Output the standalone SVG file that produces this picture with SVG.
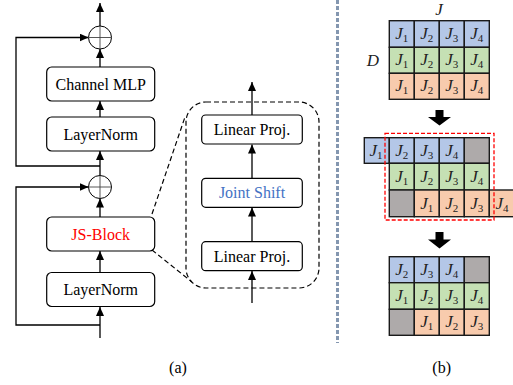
<svg xmlns="http://www.w3.org/2000/svg" width="513" height="385" viewBox="0 0 513 385">
<style>
.box{fill:#fff;stroke:#000;stroke-width:1.2}
.t{font-family:"Liberation Serif",serif;font-size:16px;text-anchor:middle}
.ln{fill:none;stroke:#000;stroke-width:1.3}
.cell{stroke:#1a1a1a;stroke-width:1.4}
.b{fill:#b4c7e7}.g{fill:#c5e0b4}.o{fill:#f8cbad}.k{fill:#aeaaaa}
.j{font-family:"Liberation Serif",serif;font-style:italic;font-size:17px;text-anchor:middle;fill:#222}
.s{font-size:11px;font-style:normal}
</style>
<defs>
<marker id="ah" markerUnits="userSpaceOnUse" markerWidth="9" markerHeight="8" refX="9" refY="4" orient="auto"><path d="M0,0 L9,4 L0,8 z" fill="#000"/></marker>
</defs>
<g id="connectors">
<line class="ln" x1="100" y1="26" x2="100" y2="3" marker-end="url(#ah)"/>
<line class="ln" x1="100" y1="67" x2="100" y2="49" marker-end="url(#ah)"/>
<line class="ln" x1="100" y1="117" x2="100" y2="101" marker-end="url(#ah)"/>
<line class="ln" x1="100" y1="175.5" x2="100" y2="151" marker-end="url(#ah)"/>
<polyline class="ln" points="100,166 16,166 16,37.5 88.5,37.5" marker-end="url(#ah)"/>
<line class="ln" x1="100" y1="217" x2="100" y2="198.5" marker-end="url(#ah)"/>
<line class="ln" x1="100" y1="272" x2="100" y2="251" marker-end="url(#ah)"/>
<line class="ln" x1="100" y1="338" x2="100" y2="307" marker-end="url(#ah)"/>
<polyline class="ln" points="100,325 16,325 16,187 88.5,187" marker-end="url(#ah)"/>
<line class="ln" x1="252" y1="303" x2="252" y2="271" marker-end="url(#ah)"/>
<line class="ln" x1="252" y1="242" x2="252" y2="207.5" marker-end="url(#ah)"/>
<line class="ln" x1="252" y1="178" x2="252" y2="144.5" marker-end="url(#ah)"/>
<line class="ln" x1="252" y1="115" x2="252" y2="82" marker-end="url(#ah)"/>
<line x1="152" y1="214" x2="185" y2="117" stroke="#000" stroke-width="1.2" stroke-dasharray="5,3"/>
<line x1="152" y1="250" x2="192" y2="282" stroke="#000" stroke-width="1.2" stroke-dasharray="5,3"/>
</g>
<g id="add1"><circle cx="100" cy="37.5" r="11.5" fill="#fff" stroke="#000" stroke-width="1"/><line x1="88.5" y1="37.5" x2="111.5" y2="37.5" stroke="#444" stroke-width="0.9"/><line x1="100" y1="26" x2="100" y2="49" stroke="#444" stroke-width="0.9"/></g>
<g id="add2"><circle cx="100" cy="187" r="11.5" fill="#fff" stroke="#000" stroke-width="1"/><line x1="88.5" y1="187" x2="111.5" y2="187" stroke="#444" stroke-width="0.9"/><line x1="100" y1="175.5" x2="100" y2="198.5" stroke="#444" stroke-width="0.9"/></g>
<g id="channel-mlp"><rect class="box" x="46.7" y="67" width="108" height="34" rx="5"/><text class="t" x="100.7" y="89.5">Channel MLP</text></g>
<g id="layernorm1"><rect class="box" x="46.7" y="117" width="108" height="34" rx="5"/><text class="t" x="100.7" y="139.5">LayerNorm</text></g>
<g id="js-block"><rect class="box" x="46.7" y="217" width="108" height="34" rx="5"/><text class="t" x="100.7" y="239.5" fill="#ff0000">JS-Block</text></g>
<g id="layernorm2"><rect class="box" x="46.7" y="272.5" width="108" height="34" rx="5"/><text class="t" x="100.7" y="295">LayerNorm</text></g>
<g id="js-detail"><rect x="186" y="102" width="133" height="186" rx="20" fill="none" stroke="#000" stroke-width="1.2" stroke-dasharray="5,3"/></g>
<g id="linear-proj-top"><rect class="box" x="201.7" y="115" width="100.6" height="29" rx="4"/><text class="t" x="252" y="135">Linear Proj.</text></g>
<g id="joint-shift"><rect class="box" x="201.7" y="178.3" width="100.6" height="29" rx="4"/><text class="t" x="252" y="198.3" fill="#4472c4">Joint Shift</text></g>
<g id="linear-proj-bottom"><rect class="box" x="201.7" y="241.7" width="100.6" height="29" rx="4"/><text class="t" x="252" y="261.7">Linear Proj.</text></g>
<line x1="337.5" y1="0" x2="337.5" y2="343" stroke="#8497b0" stroke-width="3" stroke-dasharray="4,2"/>
<g id="grid-top">
<text class="j" x="439" y="15">J</text>
<text class="j" x="373" y="66">D</text>
<rect class="cell b" x="389.3" y="20.7" width="25" height="26.6"/><rect class="cell b" x="414.3" y="20.7" width="25" height="26.6"/><rect class="cell b" x="439.3" y="20.7" width="25" height="26.6"/><rect class="cell b" x="464.3" y="20.7" width="25" height="26.6"/>
<rect class="cell g" x="389.3" y="47.3" width="25" height="26"/><rect class="cell g" x="414.3" y="47.3" width="25" height="26"/><rect class="cell g" x="439.3" y="47.3" width="25" height="26"/><rect class="cell g" x="464.3" y="47.3" width="25" height="26"/>
<rect class="cell o" x="389.3" y="73.3" width="25" height="26"/><rect class="cell o" x="414.3" y="73.3" width="25" height="26"/><rect class="cell o" x="439.3" y="73.3" width="25" height="26"/><rect class="cell o" x="464.3" y="73.3" width="25" height="26"/>
<text class="j" x="401.8" y="39">J<tspan class="s" dy="3">1</tspan></text><text class="j" x="426.8" y="39">J<tspan class="s" dy="3">2</tspan></text><text class="j" x="451.8" y="39">J<tspan class="s" dy="3">3</tspan></text><text class="j" x="476.8" y="39">J<tspan class="s" dy="3">4</tspan></text>
<text class="j" x="401.8" y="65">J<tspan class="s" dy="3">1</tspan></text><text class="j" x="426.8" y="65">J<tspan class="s" dy="3">2</tspan></text><text class="j" x="451.8" y="65">J<tspan class="s" dy="3">3</tspan></text><text class="j" x="476.8" y="65">J<tspan class="s" dy="3">4</tspan></text>
<text class="j" x="401.8" y="91">J<tspan class="s" dy="3">1</tspan></text><text class="j" x="426.8" y="91">J<tspan class="s" dy="3">2</tspan></text><text class="j" x="451.8" y="91">J<tspan class="s" dy="3">3</tspan></text><text class="j" x="476.8" y="91">J<tspan class="s" dy="3">4</tspan></text>
</g>
<polygon id="arrow1" points="435.5,110 443.5,110 443.5,117 451,117 439.5,125.5 428,117 435.5,117" fill="#000"/>
<g id="grid-mid">
<rect class="cell b" x="364.3" y="137.7" width="25" height="25.6"/><rect class="cell b" x="389.3" y="137.7" width="25" height="25.6"/><rect class="cell b" x="414.3" y="137.7" width="25" height="25.6"/><rect class="cell b" x="439.3" y="137.7" width="25" height="25.6"/><rect class="cell k" x="464.3" y="137.7" width="25" height="25.6"/>
<rect class="cell g" x="389.3" y="163.3" width="25" height="26.7"/><rect class="cell g" x="414.3" y="163.3" width="25" height="26.7"/><rect class="cell g" x="439.3" y="163.3" width="25" height="26.7"/><rect class="cell g" x="464.3" y="163.3" width="25" height="26.7"/>
<rect class="cell k" x="389.3" y="190" width="25" height="26.7"/><rect class="cell o" x="414.3" y="190" width="25" height="26.7"/><rect class="cell o" x="439.3" y="190" width="25" height="26.7"/><rect class="cell o" x="464.3" y="190" width="25" height="26.7"/><rect class="cell o" x="489.3" y="190" width="25" height="26.7"/>
<text class="j" x="376" y="156">J<tspan class="s" dy="3">1</tspan></text><text class="j" x="401.8" y="156">J<tspan class="s" dy="3">2</tspan></text><text class="j" x="426.8" y="156">J<tspan class="s" dy="3">3</tspan></text><text class="j" x="451.8" y="156">J<tspan class="s" dy="3">4</tspan></text>
<text class="j" x="401.8" y="182">J<tspan class="s" dy="3">1</tspan></text><text class="j" x="426.8" y="182">J<tspan class="s" dy="3">2</tspan></text><text class="j" x="451.8" y="182">J<tspan class="s" dy="3">3</tspan></text><text class="j" x="476.8" y="182">J<tspan class="s" dy="3">4</tspan></text>
<text class="j" x="426.8" y="209">J<tspan class="s" dy="3">1</tspan></text><text class="j" x="451.8" y="209">J<tspan class="s" dy="3">2</tspan></text><text class="j" x="476.8" y="209">J<tspan class="s" dy="3">3</tspan></text><text class="j" x="502" y="209">J<tspan class="s" dy="3">4</tspan></text>
<rect x="385" y="133.3" width="109" height="86.7" fill="none" stroke="#ff0000" stroke-width="1.3" stroke-dasharray="4,2"/>
</g>
<polygon id="arrow2" points="435.5,232 443.5,232 443.5,239.5 451,239.5 439.5,248.5 428,239.5 435.5,239.5" fill="#000"/>
<g id="grid-bottom">
<rect class="cell b" x="389.3" y="256.7" width="25" height="26"/><rect class="cell b" x="414.3" y="256.7" width="25" height="26"/><rect class="cell b" x="439.3" y="256.7" width="25" height="26"/><rect class="cell k" x="464.3" y="256.7" width="25" height="26"/>
<rect class="cell g" x="389.3" y="282.7" width="25" height="26.6"/><rect class="cell g" x="414.3" y="282.7" width="25" height="26.6"/><rect class="cell g" x="439.3" y="282.7" width="25" height="26.6"/><rect class="cell g" x="464.3" y="282.7" width="25" height="26.6"/>
<rect class="cell k" x="389.3" y="309.3" width="25" height="26"/><rect class="cell o" x="414.3" y="309.3" width="25" height="26"/><rect class="cell o" x="439.3" y="309.3" width="25" height="26"/><rect class="cell o" x="464.3" y="309.3" width="25" height="26"/>
<text class="j" x="401.8" y="275">J<tspan class="s" dy="3">2</tspan></text><text class="j" x="426.8" y="275">J<tspan class="s" dy="3">3</tspan></text><text class="j" x="451.8" y="275">J<tspan class="s" dy="3">4</tspan></text>
<text class="j" x="401.8" y="301">J<tspan class="s" dy="3">1</tspan></text><text class="j" x="426.8" y="301">J<tspan class="s" dy="3">2</tspan></text><text class="j" x="451.8" y="301">J<tspan class="s" dy="3">3</tspan></text><text class="j" x="476.8" y="301">J<tspan class="s" dy="3">4</tspan></text>
<text class="j" x="426.8" y="327">J<tspan class="s" dy="3">1</tspan></text><text class="j" x="451.8" y="327">J<tspan class="s" dy="3">2</tspan></text><text class="j" x="476.8" y="327">J<tspan class="s" dy="3">3</tspan></text>
</g>
<text class="t" x="178" y="373">(a)</text>
<text class="t" x="441.7" y="373">(b)</text>
</svg>
